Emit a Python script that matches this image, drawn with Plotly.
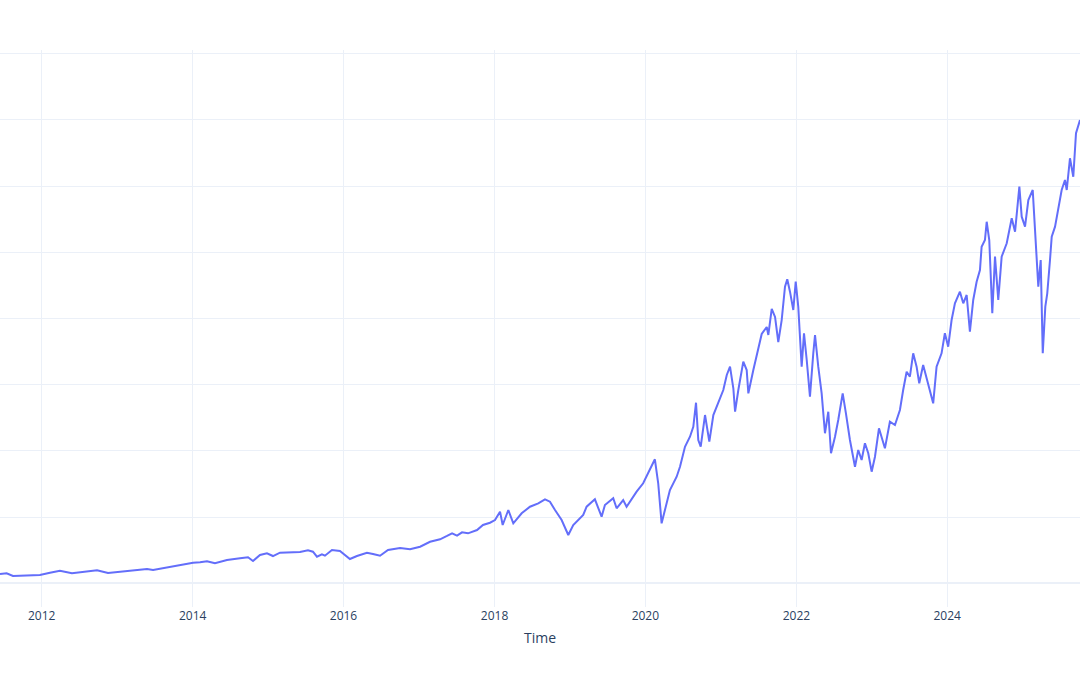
import datetime as dt
import plotly.graph_objects as go

# Time as decimal years (grid step = 100 units)
years = [
    2011.448, 2011.536, 2011.620, 2011.752, 2011.885, 2011.977, 2012.110, 2012.242, 2012.401, 2012.547,
    2012.733, 2012.878, 2013.038, 2013.210, 2013.395, 2013.475, 2013.660, 2013.833, 2014.005, 2014.098,
    2014.190, 2014.296, 2014.455, 2014.628, 2014.734, 2014.800, 2014.893, 2014.985, 2015.065, 2015.158,
    2015.290, 2015.423, 2015.529, 2015.595, 2015.648, 2015.714, 2015.754, 2015.847, 2015.953, 2016.019,
    2016.085, 2016.178, 2016.310, 2016.390, 2016.483, 2016.589, 2016.748, 2016.880, 2017.013, 2017.145,
    2017.278, 2017.370, 2017.437, 2017.503, 2017.569, 2017.649, 2017.768, 2017.847, 2017.940, 2018.006,
    2018.073, 2018.108, 2018.183, 2018.249, 2018.360, 2018.470, 2018.580, 2018.669, 2018.735, 2018.802,
    2018.890, 2018.978, 2019.044, 2019.176, 2019.221, 2019.331, 2019.420, 2019.464, 2019.574, 2019.619,
    2019.706, 2019.751, 2019.884, 2019.971, 2020.038, 2020.126, 2020.170, 2020.215, 2020.259, 2020.325,
    2020.414, 2020.458, 2020.524, 2020.590, 2020.634, 2020.670, 2020.700, 2020.732, 2020.789, 2020.846,
    2020.899, 2020.944, 2021.031, 2021.077, 2021.120, 2021.164, 2021.187, 2021.230, 2021.296, 2021.341,
    2021.363, 2021.429, 2021.495, 2021.540, 2021.607, 2021.628, 2021.673, 2021.717, 2021.760, 2021.805,
    2021.849, 2021.879, 2021.915, 2021.959, 2021.991, 2022.025, 2022.070, 2022.101, 2022.137, 2022.180,
    2022.224, 2022.247, 2022.290, 2022.335, 2022.379, 2022.423, 2022.459, 2022.512, 2022.555, 2022.614,
    2022.657, 2022.710, 2022.777, 2022.820, 2022.865, 2022.909, 2022.953, 2022.998, 2023.042, 2023.095,
    2023.174, 2023.240, 2023.307, 2023.373, 2023.416, 2023.462, 2023.505, 2023.549, 2023.594, 2023.629,
    2023.681, 2023.748, 2023.814, 2023.859, 2023.925, 2023.969, 2024.013, 2024.058, 2024.102, 2024.168,
    2024.212, 2024.257, 2024.300, 2024.344, 2024.389, 2024.433, 2024.455, 2024.499, 2024.522, 2024.556,
    2024.596, 2024.632, 2024.675, 2024.720, 2024.787, 2024.853, 2024.897, 2024.954, 2024.985, 2025.029,
    2025.073, 2025.131, 2025.175, 2025.205, 2025.237, 2025.264, 2025.298, 2025.324, 2025.360, 2025.383,
    2025.427, 2025.470, 2025.515, 2025.559, 2025.582, 2025.625, 2025.669, 2025.705, 2025.758,
]

values = [
    14.0, 15.1, 11.0, 11.5, 12.5, 12.5, 16.0, 19.0, 15.1, 16.6,
    19.6, 15.6, 17.5, 19.0, 21.6, 20.1, 23.6, 27.6, 31.1, 31.7,
    33.2, 30.2, 35.2, 37.8, 39.3, 33.7, 42.8, 45.3, 41.2, 46.2,
    46.2, 47.3, 49.9, 47.7, 40.2, 43.8, 41.7, 50.3, 48.8, 42.8,
    36.7, 41.2, 46.2, 44.3, 41.7, 50.3, 53.3, 51.4, 55.3, 62.8,
    66.5, 71.5, 75.5, 71.9, 77.0, 75.5, 80.5, 88.1, 91.5, 95.6,
    108.2, 88.1, 110.7, 90.6, 105.7, 115.7, 120.8, 126.9, 123.3, 110.7,
    95.6, 73.0, 88.1, 103.2, 115.7, 126.9, 100.6, 118.3, 128.4, 113.3,
    125.8, 115.7, 138.4, 151.1, 166.2, 187.3, 151.1, 90.6, 110.7, 140.9,
    161.0, 176.1, 206.3, 221.4, 236.5, 272.8, 216.5, 206.3, 254.2, 213.9,
    254.2, 266.8, 292.0, 314.7, 327.2, 294.6, 259.2, 292.0, 334.8, 322.2,
    287.0, 322.2, 352.4, 376.6, 387.2, 375.1, 414.4, 402.3, 364.5, 397.7,
    448.1, 459.2, 440.5, 412.9, 455.6, 417.8, 327.2, 377.7, 337.3, 281.9,
    347.4, 375.1, 327.2, 287.0, 226.6, 259.2, 196.4, 221.5, 246.7, 287.0,
    256.8, 216.5, 176.1, 201.4, 186.3, 211.5, 196.4, 168.6, 191.2, 234.1,
    203.9, 244.1, 239.1, 261.8, 292.0, 319.6, 312.1, 347.4, 327.2, 302.1,
    329.8, 302.1, 271.9, 327.2, 347.4, 377.7, 357.4, 397.7, 423.0, 440.5,
    423.0, 435.5, 380.1, 428.0, 455.6, 473.3, 508.5, 518.6, 546.2, 518.6,
    407.9, 493.4, 428.0, 493.4, 513.6, 551.4, 531.1, 599.1, 553.8, 538.7,
    579.0, 594.1, 513.6, 448.1, 488.4, 347.4, 417.8, 438.1, 488.4, 523.6,
    538.7, 568.9, 594.1, 609.2, 594.1, 642.0, 614.2, 679.8, 699.9,
]


def to_date(t):
    y = int(t)
    start = dt.datetime(y, 1, 1)
    span = (dt.datetime(y + 1, 1, 1) - start).total_seconds()
    return start + dt.timedelta(seconds=(t - y) * span)


dates = [to_date(t) for t in years]

fig = go.Figure(
    go.Scatter(x=dates, y=values, mode="lines", line=dict(color="#636efa", width=2), showlegend=False)
)

fig.update_layout(
    template="plotly_white",
    width=1080,
    height=675,
    margin=dict(l=0, r=0, t=50, b=68),
    xaxis=dict(title=dict(text="Time", standoff=10), range=[dates[0], dates[-1]]),
    yaxis=dict(range=[-35.8, 805.6], showticklabels=False, dtick=100, automargin=False),
)

fig.write_html("out.html")
